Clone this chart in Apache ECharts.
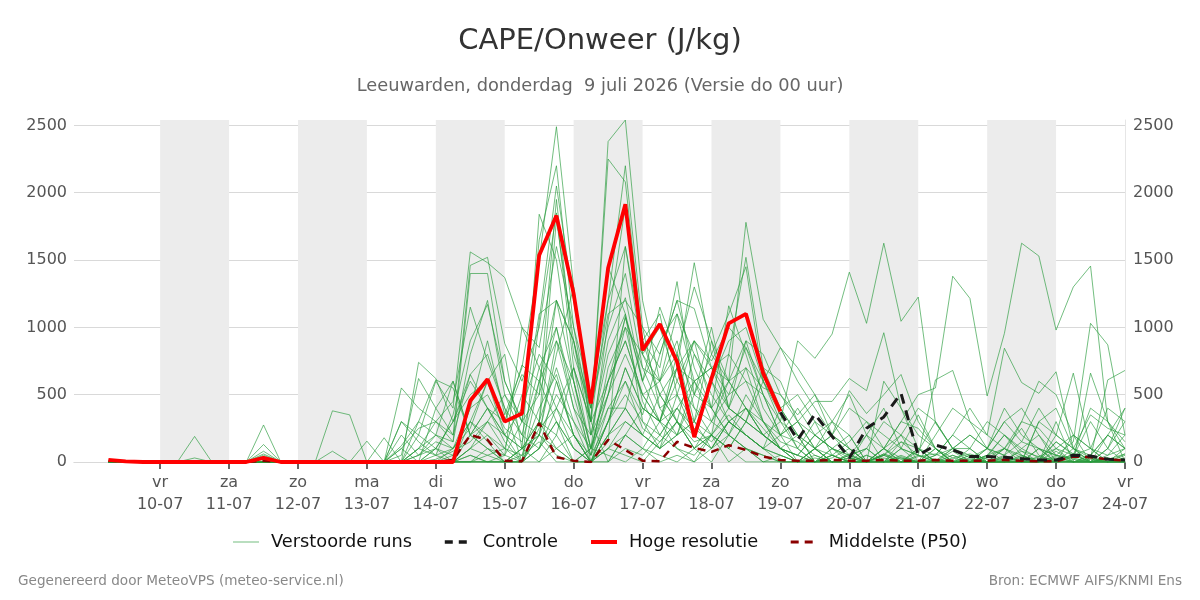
<!DOCTYPE html>
<html>
<head>
<meta charset="utf-8">
<script src="https://cdn.jsdelivr.net/npm/echarts@6.0.0/dist/echarts.min.js"></script>
<style>
  html, body { margin: 0; padding: 0; background: #fff; }
  #main { width: 1200px; height: 600px; }
</style>
</head>
<body>
<div id="main"></div>
<script>
// tijdstappen: uren na do 9 juli 00 uur (6-uurlijks)
var stepHours = [6,12,18,24,30,36,42,48,54,60,66,72,78,84,90,96,102,108,114,120,
  126,132,138,144,150,156,162,168,174,180,186,192,198,204,210,216,222,228,234,240,
  246,252,258,264,270,276,282,288,294,300,306,312,318,324,330,336,342,348,354,360];
var tickHours = [24,48,72,96,120,144,168,192,216,240,264,288,312,336,360];
var dayNames = ['zo','ma','di','wo','do','vr','za'];

// Hoge resolutie (tot 10 dagen)
var hresVals = [15,5,0,0,0,0,0,0,0,30, 0,0,0,0,0,0,0,0,0,0,
  0,455,615,300,360,1535,1830,1250,435,1440, 1915,830,1025,745,185,620,1030,1100,660,375];
// Controle (zichtbaar vanaf 19-07)
var controleVals = [null,null,null,null,null,null,null,null,null,null,
  null,null,null,null,null,null,null,null,null,null,
  null,null,null,null,null,null,null,null,null,null,
  null,null,null,null,null,null,null,null,null,370,
  165,355,190,30,250,335,510,50,125,90, 40,40,35,25,15,15,50,45,20,15];
// Middelste (P50)
var p50Vals = [10,5,0,0,0,0,0,0,0,10, 0,0,0,0,0,0,0,0,0,0,
  15,200,165,10,5,290,35,10,0,165, 90,10,5,150,105,75,125,90,40,15,
  10,10,15,10,10,15,10,10,15,10, 10,10,15,10,5,5,40,35,20,10];

// Verstoorde runs
var run01 = [5,3,0,0,0,0,0,0,0,0, 0,0,0,0,0,0,0,120,300,200, 100,400,900,350,700,1500,2490,1300,200,800, 1100,600,300,700,900,400,200,500,300,100, 50,200,100,30,0,60,20,0,10,100, 30,0,20,80,40,10,0,50,200,100];
var run02 = [5,2,0,0,0,0,0,0,0,0, 0,0,0,0,0,0,0,0,50,100, 300,650,400,200,0,600,1200,900,300,2380, 2540,1200,600,300,800,500,300,200,100,50, 0,0,30,100,0,50,200,100,0,30, 60,20,0,0,100,50,20,0,0,30];
var run03 = [4,0,0,0,0,0,0,0,0,0, 0,0,0,0,0,0,0,300,200,600, 400,1560,1480,1370,1000,700,400,200,50,300, 600,350,800,1200,700,400,1160,800,400,200, 300,100,0,50,200,100,30,0,0,80, 0,40,200,100,30,0,60,30,0,20];
var run04 = [5,0,0,0,0,0,0,0,0,0, 0,0,0,0,0,0,0,50,620,400, 200,1460,1520,880,600,1000,1850,700,100,500, 1080,600,1150,800,300,900,600,1780,1060,850, 600,400,200,100,0,50,150,50,20,0, 30,100,0,40,20,150,60,0,20,60];
var run05 = [3,0,0,0,0,0,0,0,0,0, 0,0,0,0,0,0,0,0,100,300, 150,1400,1400,600,300,1650,2200,1000,300,2250, 2080,900,700,1340,500,800,1100,1450,600,400, 200,0,50,150,300,100,0,40,60,0, 20,0,30,0,40,100,200,0,30,0];
var run06 = [5,0,0,0,0,0,0,0,0,0, 0,0,0,0,0,0,0,0,0,0, 0,100,300,200,400,800,600,200,0,300, 700,400,300,600,400,300,500,600,500,300, 900,770,950,1410,1030,1625,1045,1225,290,100, 200,100,300,150,400,200,100,350,250,200];
var run07 = [4,0,0,0,0,0,0,0,0,0, 0,0,0,0,0,0,0,0,0,0, 0,0,50,100,0,300,100,0,0,200, 400,200,100,300,150,200,400,300,200,100, 50,200,100,50,0,100,300,500,550,1380, 1215,490,955,1625,1530,980,1300,1455,300,100];
var run08 = [0,0,0,0,0,0,0,0,0,0, 0,0,0,0,0,0,0,0,0,0, 0,0,0,0,0,100,400,700,300,600, 900,500,300,400,600,700,400,300,600,850, 700,500,300,100,0,0,50,0,100,0, 0,0,0,50,0,0,100,0,0,0];
var run09 = [0,0,0,0,0,0,0,0,0,0, 0,0,0,0,0,0,0,300,150,50, 350,900,1170,600,300,200,900,600,100,600, 1070,700,600,900,400,200,800,1520,700,600, 300,100,200,400,300,200,100,50,610,680, 300,100,400,200,100,50,150,1030,870,200];
var run10 = [0,0,0,0,0,0,0,0,0,30, 0,0,0,0,0,0,0,100,250,300, 200,650,800,400,200,700,1000,500,50,700, 1000,800,1000,600,900,750,1000,850,600,350, 100,300,50,0,200,400,100,0,200,400, 300,200,845,590,510,670,100,30,610,680];
var run11 = [0,0,0,0,0,0,0,0,0,0, 0,0,0,0,0,0,0,0,0,50, 0,300,600,200,100,1840,1500,600,0,150, 1600,900,500,700,1480,800,600,400,200,100, 0,100,0,50,100,0,30,0,50,100, 0,50,100,30,0,200,660,100,0,50];
var run12 = [0,0,0,0,0,0,0,0,0,80, 0,0,0,0,0,0,0,550,400,300, 450,1150,750,400,0,1050,2050,1200,400,1100, 1200,1000,800,1200,1140,700,500,850,500,200, 150,50,0,30,0,100,300,250,100,0, 0,30,100,250,50,0,40,300,100,0];
var run13 = [0,0,0,0,0,0,0,0,0,275, 0,0,0,0,0,0,0,0,740,620, 300,500,600,300,650,500,1000,400,200,900, 1220,600,900,1100,600,700,800,600,300,100, 50,0,100,200,0,50,0,80,300,100, 50,0,0,100,200,50,30,0,200,400];
var run14 = [0,0,0,0,0,0,0,0,0,130, 0,0,0,0,0,0,0,0,300,610, 550,200,100,50,1000,850,1600,1000,500,1200, 1600,800,600,800,1300,900,400,300,700,400, 200,100,0,0,50,0,100,350,100,30, 0,100,50,0,300,400,100,50,0,100];
var run15 = [0,0,0,0,0,190,0,0,0,40, 0,0,0,0,0,0,0,0,100,50, 100,300,200,100,50,400,650,200,0,300, 500,300,200,400,250,150,300,400,200,100, 50,0,0,30,0,60,0,0,20,0, 10,0,0,30,0,50,0,20,0,0];
var run16 = [0,0,0,0,0,30,0,0,0,60, 0,0,0,0,0,0,0,200,50,150, 100,250,600,800,100,300,1200,600,100,600, 900,500,600,1100,800,600,400,900,800,500, 300,200,100,50,100,300,200,0,50,200, 100,0,50,150,100,0,200,100,50,200];
var run17 = [0,0,0,0,0,0,0,0,0,0, 0,0,0,380,350,0,0,0,0,100, 50,400,500,250,150,600,900,400,50,500, 800,500,300,700,600,400,600,700,300,150, 100,0,50,0,0,30,0,100,0,0, 0,0,100,50,0,0,60,0,30,0];
var run18 = [0,0,0,0,0,0,0,0,0,50, 0,0,0,80,0,155,0,0,200,100, 300,600,400,200,100,300,700,300,0,200, 400,200,500,300,200,100,300,200,100,0, 0,50,0,0,100,0,0,50,0,0, 0,0,40,0,0,30,0,0,0,60];
var run19 = [0,0,0,0,0,0,0,0,0,30, 0,0,0,0,0,0,180,0,100,200, 150,800,1200,500,300,500,1950,800,400,1000, 1400,700,400,500,200,600,900,1000,600,300, 100,0,0,0,50,0,0,0,100,0, 0,50,0,0,0,0,0,30,0,0];
var run20 = [0,0,0,0,0,0,0,0,0,0, 0,0,0,0,0,0,0,0,50,200, 600,200,400,300,720,600,300,0,100,1050, 1900,800,500,300,100,300,600,900,500,200, 0,100,300,200,0,0,150,100,0,0, 100,0,0,0,0,100,0,50,200,100];
var run21 = [0,0,0,0,0,0,0,0,0,0, 0,0,0,0,0,0,0,0,0,100, 0,100,200,50,300,1100,1200,900,400,1450, 1100,300,100,200,500,400,200,100,50,0, 0,0,0,0,0,0,40,0,0,0, 0,0,0,0,100,0,0,0,30,0];
var run22 = [0,0,0,0,0,0,0,0,0,20, 0,0,0,0,0,0,0,0,0,0, 50,200,100,0,0,200,500,300,100,400, 600,250,150,300,100,200,350,200,100,50, 0,30,0,0,0,0,0,0,0,0, 0,0,0,0,0,0,0,0,0,0];
var run23 = [0,0,0,0,0,0,0,0,0,0, 0,0,0,0,0,0,0,0,0,0, 0,200,400,150,0,250,400,100,0,300, 700,400,300,800,500,1000,400,700,550,500, 350,500,200,100,0,600,400,200,100,0, 0,50,200,80,0,150,50,0,100,300];
var run24 = [0,0,0,0,0,0,0,0,0,0, 0,0,0,0,0,0,0,0,0,20, 80,150,300,100,500,300,200,700,300,0, 200,400,300,200,300,600,300,200,100,400, 500,300,200,50,0,100,200,400,300,100, 100,300,200,50,0,300,0,660,300,0];
var run25 = [0,0,0,0,0,0,0,0,0,0, 0,0,0,0,0,0,0,0,0,0, 0,0,0,50,0,200,800,1300,300,1200, 2200,1000,400,200,600,300,200,100,50,0, 0,0,0,60,0,0,0,0,0,50, 0,0,0,0,0,80,0,0,0,0];
var run26 = [0,0,0,0,0,0,0,0,0,0, 0,0,0,0,0,0,0,100,0,400, 600,200,300,500,200,100,600,200,0,100, 300,200,100,500,300,200,100,300,200,100, 200,100,0,0,0,50,0,100,50,200, 400,200,100,300,250,100,50,400,300,150];
var run27 = [0,0,0,0,0,0,0,0,0,0, 0,0,0,0,0,0,0,0,0,0, 0,100,50,0,0,100,300,100,0,0, 200,100,50,0,100,0,200,100,0,0, 0,0,0,0,0,0,0,0,0,0, 0,0,0,0,0,0,0,0,0,0];
var run28 = [0,0,0,0,0,0,0,0,0,0, 0,0,0,0,0,0,0,0,0,0, 0,50,0,0,0,300,1800,900,200,500, 1000,450,200,400,200,100,300,400,250,100, 0,0,50,0,0,0,0,0,0,0, 0,0,0,0,0,0,0,0,0,0];
var run29 = [0,0,0,0,0,0,0,0,0,0, 0,0,0,0,0,0,0,0,0,0, 0,0,0,0,100,200,100,0,0,0, 100,50,200,100,0,100,300,200,100,200, 400,200,300,500,200,0,100,50,0,100, 200,100,50,300,600,500,200,100,400,300];
var run30 = [0,0,0,0,0,0,0,0,0,0, 0,0,0,0,0,0,0,0,0,0, 0,0,0,0,0,0,100,200,0,400, 400,900,1100,500,900,700,600,400,200,300, 200,0,100,0,0,100,0,0,0,0, 50,0,0,0,0,0,0,0,100,400];
var run31 = [0,0,0,0,0,0,0,0,0,0, 0,0,0,0,0,0,0,0,0,0, 0,0,0,0,50,150,0,0,100,50, 0,100,0,50,0,200,0,100,0,50, 0,0,0,0,0,0,0,0,0,0, 0,0,0,0,0,0,0,0,0,0];
var run32 = [0,0,0,0,0,0,0,0,0,0, 0,0,0,0,0,0,0,0,0,0, 100,300,150,0,100,200,50,0,0,100, 50,0,150,300,100,200,100,0,0,0, 0,100,50,0,0,0,0,0,0,0, 0,0,0,0,0,40,0,0,0,0];
var run33 = [0,0,0,0,0,0,0,0,0,0, 0,0,0,0,0,0,0,0,0,0, 0,0,100,0,0,100,300,100,0,200, 300,200,100,200,300,100,200,400,300,200, 300,450,450,620,530,960,400,100,0,50, 0,100,300,400,200,0,50,100,0,0];
var run34 = [0,0,0,0,0,0,0,0,0,0, 0,0,0,0,0,0,0,0,0,0, 0,50,0,0,100,0,200,0,0,100, 200,100,300,100,50,200,100,300,200,100, 0,100,200,530,360,500,650,300,100,0, 50,0,100,0,300,200,100,0,50,100];

var runs = [run01,run02,run03,run04,run05,run06,run07,run08,run09,run10,run11,run12,
  run13,run14,run15,run16,run17,run18,run19,run20,run21,run22,run23,run24,run25,
  run26,run27,run28,run29,run30,run31,run32,run33,run34];

var FONT = 'DejaVu Sans';
var runColor = 'rgba(40,155,60,0.65)';

function pad(n) { return (n < 10 ? '0' : '') + n; }
var origin = new Date(2026, 6, 9, 0, 0, 0).getTime();
function dayLabel(h) {
  var d = new Date(origin + h * 3600000);
  return dayNames[d.getDay()] + '\n' + pad(d.getDate()) + '-' + pad(d.getMonth() + 1);
}
function pairs(vals) {
  return vals.map(function (v, i) { return [stepHours[i], v]; });
}

// grijze banden: om de dag, vanaf vr 10-07
var bands = [];
for (var d = 0; d < tickHours.length - 1; d += 2) {
  bands.push([{ xAxis: tickHours[d] }, { xAxis: tickHours[d + 1] }]);
}

var series = [{
  type: 'line', name: 'band', data: [], z: 0, silent: true,
  markArea: { silent: true, itemStyle: { color: '#ececec' }, data: bands }
}];
runs.forEach(function (r) {
  series.push({
    type: 'line', name: 'Verstoorde runs', data: pairs(r), symbol: 'none', silent: true,
    lineStyle: { width: 1, color: runColor }, itemStyle: { color: runColor }, z: 2
  });
});
series.push({
  type: 'line', name: 'Middelste (P50)', data: pairs(p50Vals), symbol: 'none', silent: true,
  lineStyle: { width: 2.5, color: '#8b0000', type: [8, 6] }, itemStyle: { color: '#8b0000' }, z: 3
});
series.push({
  type: 'line', name: 'Controle', data: pairs(controleVals), symbol: 'none', silent: true,
  lineStyle: { width: 3, color: '#1a1a1a', type: [10, 7] }, itemStyle: { color: '#1a1a1a' }, z: 4
});
series.push({
  type: 'line', name: 'Hoge resolutie', data: pairs(hresVals), symbol: 'none', silent: true,
  lineStyle: { width: 3.8, color: '#ff0000' }, itemStyle: { color: '#ff0000' }, z: 5
});

var yBase = {
  type: 'value', min: 0, max: 2540, interval: 500, z: 1,
  axisTick: { show: false },
  axisLabel: { fontFamily: FONT, fontSize: 16, color: '#555', showMaxLabel: false,
    formatter: function (v) { return String(v); } }
};

var chart = echarts.init(document.getElementById('main'));
chart.setOption({
  animation: false,
  textStyle: { fontFamily: FONT },
  title: [
    { text: 'CAPE/Onweer (J/kg)', left: 'center', top: 22,
      textStyle: { fontFamily: FONT, fontSize: 29, fontWeight: 'normal', color: '#333' } },
    { text: 'Leeuwarden, donderdag  9 juli 2026 (Versie do 00 uur)', left: 'center', top: 72,
      textStyle: { fontFamily: FONT, fontSize: 17.8, fontWeight: 'normal', color: '#666' } },
    { text: 'Gegenereerd door MeteoVPS (meteo-service.nl)', left: 13, top: 569,
      textStyle: { fontFamily: FONT, fontSize: 13.6, fontWeight: 'normal', color: '#888' } },
    { text: 'Bron: ECMWF AIFS/KNMI Ens', right: 13, top: 569,
      textStyle: { fontFamily: FONT, fontSize: 13.6, fontWeight: 'normal', color: '#888' } }
  ],
  legend: {
    top: 528, left: 'center', itemWidth: 26, itemHeight: 14, itemGap: 31,
    itemStyle: { opacity: 0 },
    textStyle: { fontFamily: FONT, fontSize: 17.8, color: '#111', padding: [0, 0, 0, 7] },
    data: [
      { name: 'Verstoorde runs', lineStyle: { width: 1 } },
      { name: 'Controle', lineStyle: { width: 3.5, type: [8, 6] } },
      { name: 'Hoge resolutie', lineStyle: { width: 4 } },
      { name: 'Middelste (P50)', lineStyle: { width: 3, type: [8, 6] } }
    ]
  },
  grid: { left: 74, right: 75, top: 120, bottom: 138 },
  xAxis: {
    type: 'value', min: -6, max: 360,
    axisLine: { show: true, lineStyle: { color: '#ccc' } },
    axisTick: { show: true, customValues: tickHours, length: 7, lineStyle: { color: '#666', width: 2 } },
    axisLabel: { customValues: tickHours, formatter: dayLabel, fontFamily: FONT, fontSize: 16,
      color: '#555', lineHeight: 22, margin: 10 },
    splitLine: { show: false }
  },
  yAxis: [
    Object.assign({}, yBase, {
      position: 'left',
      axisLine: { show: false },
      axisLabel: Object.assign({}, yBase.axisLabel, { margin: 7 }),
      splitLine: { show: true, showMaxLine: false, lineStyle: { color: '#d9d9d9' } }
    }),
    Object.assign({}, yBase, {
      position: 'right',
      axisLine: { show: true, lineStyle: { color: '#e6e6e6' } },
      axisLabel: Object.assign({}, yBase.axisLabel, { margin: 8 }),
      splitLine: { show: false }
    })
  ],
  series: series
});
</script>
</body>
</html>
